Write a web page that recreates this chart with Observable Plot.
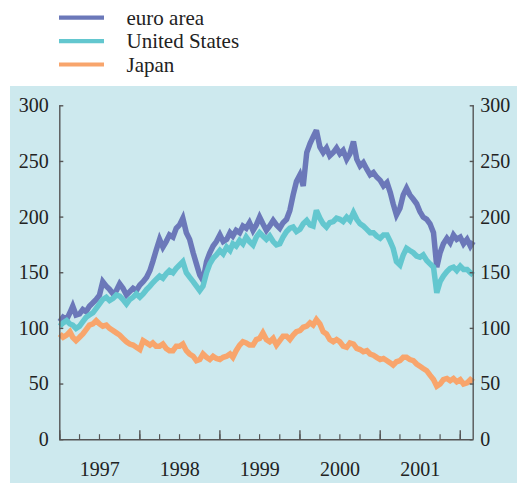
<!DOCTYPE html>
<html>
<head>
<meta charset="utf-8">
<script src="https://cdn.jsdelivr.net/npm/d3@7"></script>
<script src="https://cdn.jsdelivr.net/npm/@observablehq/plot@0.6"></script>
<style>
  body { margin: 0; background: #fff; width: 517px; height: 485px; position: relative; overflow: hidden; font-family: "Liberation Serif", "Times New Roman", "DejaVu Serif", serif; }
  #legend { position: absolute; left: 0; top: 0; }
  #legend text { font-family: "Liberation Serif", "Times New Roman", "DejaVu Serif", serif; font-size: 21px; }
  #chart { position: absolute; left: 10px; top: 86px; }
  #chart svg, #chart svg text { font-family: "Liberation Serif", "Times New Roman", "DejaVu Serif", serif !important; }
</style>
</head>
<body>
<svg id="legend" width="517" height="86"></svg>
<div id="chart"></div>
<script>
// Series names and colours
const seriesNames = ["euro area", "United States", "Japan"];
const seriesColors = ["#6b78b9", "#63c7cf", "#f8a56c"];

// Semi-monthly observations, 1 Jan 1997 .. 1 Mar 2002 (1st and 16th of each month)
const euroArea = [
  106,110,108,114,120,112,113,117,115,120,123,126,130,142,138,135,131,134,140,136,
  130,133,136,134,139,142,146,152,160,170,180,173,178,184,182,190,193,199,186,180,
  168,158,148,143,160,168,174,178,184,178,180,186,183,188,186,192,190,195,188,193,
  200,194,188,192,197,193,190,195,198,206,220,232,238,228,258,266,272,278,263,258,
  262,255,258,262,257,260,252,257,268,252,246,249,243,238,240,236,233,228,231,222,
  212,202,208,220,226,220,216,212,205,200,198,194,186,155,168,176,181,177,184,180,
  182,176,180,174,178
];
const unitedStates = [
  102,105,107,104,103,100,102,106,110,112,114,118,122,126,128,125,127,130,129,126,
  122,126,128,131,128,131,135,138,141,144,147,145,149,152,150,154,157,160,150,146,
  142,138,134,138,150,158,163,166,170,167,173,170,176,174,179,176,182,178,175,182,
  186,183,180,183,178,175,176,182,187,190,191,187,189,194,197,193,192,206,199,194,
  191,195,196,199,198,196,200,197,204,198,194,192,189,186,186,183,181,184,184,178,
  172,160,157,166,172,170,168,165,164,166,161,158,155,132,142,147,151,154,155,152,
  156,153,153,150,148
];
const japan = [
  95,92,94,97,92,89,92,95,99,103,104,107,104,102,103,100,98,96,94,91,
  88,86,85,83,81,89,87,85,87,84,84,86,82,80,80,84,84,86,80,77,
  75,71,72,77,74,72,75,73,72,74,75,77,74,80,85,88,87,85,85,90,
  91,96,90,88,91,85,89,93,93,90,94,97,98,101,102,105,103,108,104,97,
  95,90,88,90,88,84,83,87,86,82,81,79,80,77,76,74,72,73,71,69,
  67,70,71,74,74,72,71,68,66,64,62,58,54,48,50,54,55,53,55,52,
  54,50,51,54,52
];

// Axis ticks
const yTicks = [0, 50, 100, 150, 200, 250, 300];
const yearLabels = [1997, 1998, 1999, 2000, 2001];

const dates = d3.range(euroArea.length).map(i => new Date(Date.UTC(1997, Math.floor(i / 2), i % 2 ? 16 : 1)));
const seriesValues = [euroArea, unitedStates, japan];
const table = seriesNames.flatMap((name, s) => seriesValues[s].map((v, i) => ({ series: name, date: dates[i], value: v })));

const xStart = new Date(Date.UTC(1997, 0, 1));
const xEnd = new Date(Date.UTC(2002, 2, 1));
const quarterTicks = d3.utcMonth.every(3).range(xStart, xEnd);
const yearTicks = d3.utcYear.range(xStart, xEnd);
const midYears = yearLabels.map(y => new Date(Date.UTC(y, 6, 2)));

const axisColor = "#555";
const textColor = "#222";
const serif = "'Liberation Serif', 'Times New Roman', 'DejaVu Serif', serif";

const chart = Plot.plot({
  width: 507,
  height: 397,
  marginLeft: 49.3,
  marginRight: 44.3,
  marginTop: 19.3,
  marginBottom: 43.8,
  style: { background: "#cde9ee", fontFamily: serif, fontSize: "20px", color: textColor },
  x: { type: "utc", domain: [xStart, xEnd] },
  y: { domain: [0, 300] },
  color: { domain: seriesNames, range: seriesColors },
  marks: [
    Plot.line(table, { x: "date", y: "value", z: "series", stroke: "series", strokeWidth: 5.5, strokeLinejoin: "miter", strokeMiterlimit: 3, strokeLinecap: "butt" }),
    Plot.ruleY([0], { stroke: axisColor, strokeWidth: 1.4 }),
    Plot.ruleX([xStart, xEnd], { y1: 0, y2: 300, stroke: axisColor, strokeWidth: 1.4 }),
    Plot.axisY(yTicks, { anchor: "left", tickSize: -4, tickPadding: 15, stroke: axisColor, strokeWidth: 1.4, fill: textColor, label: null }),
    Plot.axisY(yTicks, { anchor: "right", tickSize: -4, tickPadding: 11, stroke: axisColor, strokeWidth: 1.4, fill: textColor, label: null }),
    Plot.axisX(quarterTicks, { anchor: "bottom", tickSize: -5, text: null, stroke: axisColor, strokeWidth: 1.2, label: null }),
    Plot.axisX(yearTicks, { anchor: "bottom", tickSize: -9, text: null, stroke: axisColor, strokeWidth: 1.4, label: null }),
    Plot.axisX(midYears, { anchor: "bottom", tickSize: 0, tickPadding: 22, tickFormat: d => String(d.getUTCFullYear()), fill: textColor, label: null })
  ]
});
document.getElementById("chart").appendChild(chart);

// Legend
const legend = d3.select("#legend");
const rowY = [17.7, 41.2, 64.5];
seriesNames.forEach((name, i) => {
  legend.append("line")
    .attr("x1", 59).attr("x2", 104).attr("y1", rowY[i]).attr("y2", rowY[i])
    .attr("stroke", seriesColors[i]).attr("stroke-width", 4.2);
  legend.append("text")
    .attr("x", 126.5).attr("y", rowY[i] + 7)
    .attr("fill", textColor)
    .text(name);
});
</script>
</body>
</html>
